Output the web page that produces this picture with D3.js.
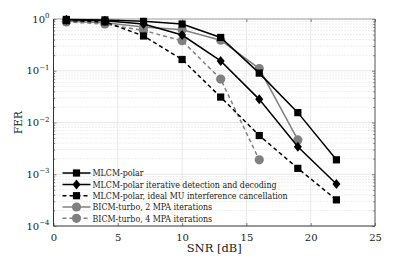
<!DOCTYPE html>
<html><head><meta charset="utf-8">
<script src="https://cdn.jsdelivr.net/npm/d3@7"></script>
<style>body{margin:0;background:#fff}svg{display:block}</style>
</head><body><svg id="c" width="415" height="258"></svg>
<script>
const snr = [1,4,7,10,13,16,19,22];
const mlcmPolar = [0.98,0.96,0.9,0.8,0.44,0.09,0.0155,0.0019];
const mlcmIter = [0.97,0.93,0.8,0.49,0.155,0.028,0.0034,0.00065];
const mlcmIdeal = [0.93,0.88,0.47,0.165,0.031,0.0056,0.0013,0.00032];
const bicm2 = [0.9,0.85,0.7,0.62,0.39,0.11,0.0046];
const bicm4 = [0.88,0.8,0.6,0.38,0.069,0.0019];
const xTicks = [0,5,10,15,20,25];
const yTicks = [1,0.1,0.01,0.001,0.0001];
const yExp = ["0","−1","−2","−3","−4"];
const labels = ["MLCM-polar","MLCM-polar iterative detection and decoding","MLCM-polar, ideal MU interference cancellation","BICM-turbo, 2 MPA iterations","BICM-turbo, 4 MPA iterations"];
const FONT = "'DejaVu Serif', serif";
const FONTC = "'DejaVu Serif Condensed', 'DejaVu Serif', serif";

const series = [
 {name:labels[0], y:mlcmPolar, color:"#000", dash:null, marker:"square"},
 {name:labels[1], y:mlcmIter, color:"#000", dash:null, marker:"diamond"},
 {name:labels[2], y:mlcmIdeal, color:"#000", dash:"4,3", marker:"square"},
 {name:labels[3], y:bicm2, color:"#808080", dash:null, marker:"circle"},
 {name:labels[4], y:bicm4, color:"#808080", dash:"4,3", marker:"circle"}
];

const svg = d3.select("#c");
const L=53.5, R=375, T=19, B=226;
const x = d3.scaleLinear().domain([0,25]).range([L,R]);
const y = d3.scaleLog().domain([1e-4,1]).range([B,T]);

const g = svg.append("g");
for(let e=-4;e<0;e++){
  for(let m=2;m<=9;m++){
    const v=m*Math.pow(10,e);
    g.append("line").attr("x1",L).attr("x2",R).attr("y1",y(v)).attr("y2",y(v))
     .attr("stroke","#c8c8c8").attr("stroke-width",0.6).attr("stroke-dasharray","1,2");
  }
}
yTicks.slice(1,4).forEach(v=>{
  g.append("line").attr("x1",L).attr("x2",R).attr("y1",y(v)).attr("y2",y(v)).attr("stroke","#e2e2e2").attr("stroke-width",0.8);
});
xTicks.slice(1,5).forEach(v=>{
  g.append("line").attr("x1",x(v)).attr("x2",x(v)).attr("y1",T).attr("y2",B).attr("stroke","#e2e2e2").attr("stroke-width",0.8);
});

const xa = svg.append("g").attr("transform",`translate(0,${B})`)
 .call(d3.axisBottom(x).tickValues(xTicks).tickSize(-3).tickPadding(8).tickFormat(d3.format("d")));
const xt = svg.append("g").attr("transform",`translate(0,${T})`)
 .call(d3.axisTop(x).tickValues(xTicks).tickSize(-3).tickFormat(""));
const minor=[];
for(let e=-4;e<0;e++) for(let m=2;m<=9;m++) minor.push(m*Math.pow(10,e));
const ya = svg.append("g").attr("transform",`translate(${L},0)`)
 .call(d3.axisLeft(y).tickValues(yTicks).tickSize(-3).tickFormat(""));
const yam = svg.append("g").attr("transform",`translate(${L},0)`)
 .call(d3.axisLeft(y).tickValues(minor).tickSize(-1.8).tickFormat(""));
const yr = svg.append("g").attr("transform",`translate(${R},0)`)
 .call(d3.axisRight(y).tickValues(yTicks).tickSize(-3).tickFormat(""));
const yrm = svg.append("g").attr("transform",`translate(${R},0)`)
 .call(d3.axisRight(y).tickValues(minor).tickSize(-1.8).tickFormat(""));
[xa,xt,ya,yam,yr,yrm].forEach(a=>{a.attr("font-family",FONT);a.select(".domain").remove();a.selectAll("line").attr("stroke","#333").attr("stroke-width",0.6);});
xa.selectAll("text").attr("font-size",10).attr("fill","#222").style("font-family",FONT);

yTicks.forEach((v,i)=>{
  const t = svg.append("text").attr("x",L-4).attr("y",y(v)+3.5).attr("text-anchor","end").attr("font-size",10).attr("fill","#222").style("font-family",FONT);
  t.append("tspan").text("10");
  t.append("tspan").attr("dy",-4.5).attr("font-size",7).text(yExp[i]);
});

svg.append("line").attr("x1",L).attr("x2",R).attr("y1",T).attr("y2",T).attr("stroke","#999").attr("stroke-width",1);
svg.append("line").attr("x1",R).attr("x2",R).attr("y1",T).attr("y2",B).attr("stroke","#555").attr("stroke-width",1);
svg.append("line").attr("x1",L).attr("x2",R).attr("y1",B).attr("y2",B).attr("stroke","#333").attr("stroke-width",1);
svg.append("line").attr("x1",L).attr("x2",L).attr("y1",T).attr("y2",B).attr("stroke","#333").attr("stroke-width",1);

svg.append("text").attr("x",x(12.5)).attr("y",252).attr("text-anchor","middle").attr("font-size",11.5).attr("fill","#222").style("font-family",FONT).text("SNR [dB]");
svg.append("text").attr("transform",`translate(22,${(T+B)/2}) rotate(-90)`).attr("text-anchor","middle").attr("font-size",10.5).attr("fill","#222").style("font-family",FONT).text("FER");

function drawMarker(sel, type, cx, cy, color){
  if(type==="square") sel.append("rect").attr("x",cx-3.6).attr("y",cy-3.6).attr("width",7.2).attr("height",7.2).attr("fill",color);
  else if(type==="diamond") sel.append("path").attr("d",`M${cx},${cy-5}L${cx+4},${cy}L${cx},${cy+5}L${cx-4},${cy}Z`).attr("fill",color);
  else sel.append("circle").attr("cx",cx).attr("cy",cy).attr("r",4.6).attr("fill",color);
}

const line = d3.line().x(d=>x(d[0])).y(d=>y(d[1]));
const order=[3,4,0,1,2];
order.forEach(i=>{
  const s=series[i];
  const pts = s.y.map((v,j)=>[snr[j],v]);
  const sg = svg.append("g");
  sg.append("path").attr("d",line(pts)).attr("fill","none").attr("stroke",s.color).attr("stroke-width",1.5)
    .attr("stroke-dasharray",s.dash);
  pts.forEach(p=>drawMarker(sg,s.marker,x(p[0]),y(p[1]),s.color));
});

const ly=[173,184.5,195.7,207,218.3];
series.forEach((s,i)=>{
  const lg=svg.append("g");
  lg.append("line").attr("x1",62.5).attr("x2",90.5).attr("y1",ly[i]).attr("y2",ly[i]).attr("stroke",s.color).attr("stroke-width",1.5).attr("stroke-dasharray",s.dash);
  drawMarker(lg,s.marker,76.5,ly[i],s.color);
  lg.append("text").attr("x",92.5).attr("y",ly[i]+3.3).attr("font-size",8.8).attr("fill","#222").style("font-family",FONTC).text(s.name);
});
</script></body></html>
